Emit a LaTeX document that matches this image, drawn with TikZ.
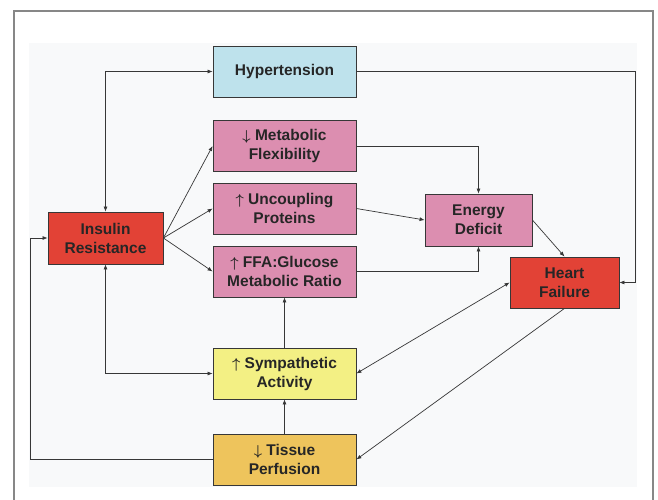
\documentclass[tikz,border=0pt]{standalone}
\usepackage{amsmath}
\usepackage{fontspec}
\setmainfont{Liberation Sans}
\usetikzlibrary{positioning, arrows.meta, calc}
\definecolor{framegray}{RGB}{135, 135, 135}
\definecolor{panelbg}{RGB}{248, 249, 250}
\definecolor{linkgray}{RGB}{55, 55, 55}
\definecolor{hypblue}{RGB}{190, 226, 236}
\definecolor{metapink}{RGB}{220, 142, 176}
\definecolor{keyred}{RGB}{226, 66, 54}
\definecolor{symyellow}{RGB}{243, 240, 132}
\definecolor{perforange}{RGB}{238, 196, 92}
\definecolor{boxtext}{RGB}{38, 38, 38}
\newcommand{\up}{$\boldsymbol{\uparrow}$}
\newcommand{\down}{$\boldsymbol{\downarrow}$}

\begin{document}
\begin{tikzpicture}[
                x=1pt, y=-1pt,
                box/.style={draw=linkgray, line width=0.8pt, align=center, inner sep=0pt,
                    minimum width=143pt, minimum height=51pt, text=boxtext,
                    font=\fontsize{15.5}{19}\selectfont\bfseries},
                keybox/.style={box, fill=keyred, minimum width=115pt, minimum height=52pt},
                link/.style={draw=linkgray, line width=0.7pt, arrows={-Latex[length=5pt, width=4pt]}},
                twoway/.style={link, arrows={Latex[length=5pt, width=4pt]-Latex[length=5pt, width=4pt]}}
            ]
                \useasboundingbox (0,0) rectangle (658,500);
                \fill[white] (0,0) rectangle (658,500);
                \draw[framegray, line width=1.2pt] (14,500) -- (14,11) -- (653,11) -- (653,500);
                \fill[panelbg] (29,43) rectangle (637,487);

                % middle column
                \node[box, fill=hypblue] (hyp) at (284.5, 71.5) {Hypertension};
                \node[box, fill=metapink] (metab) at (284.5, 146) {\down\ Metabolic\\Flexibility};
                \node[box, fill=metapink] (uncoup) at (284.5, 208.5) {\up\ Uncoupling\\Proteins};
                \node[box, fill=metapink] (ffa) at (284.5, 271.5) {\up\ FFA:Glucose\\Metabolic Ratio};
                \node[box, fill=symyellow] (symp) at (284.5, 373.5) {\up\ Sympathetic\\Activity};
                \node[box, fill=perforange] (tissue) at (284.5, 459.5) {\down\ Tissue\\Perfusion};

                % left and right
                \node[keybox] (insulin) at (105.5, 238) {Insulin\\Resistance};
                \node[box, fill=metapink, minimum width=107pt, minimum height=52pt] (energy) at (478.5, 220) {Energy\\Deficit};
                \node[keybox, minimum width=109pt, minimum height=51pt] (heart) at (564.5, 282.5) {Heart\\Failure};

                % insulin resistance links
                \draw[twoway] (insulin.north) |- (hyp.west);
                \draw[link] (insulin.east) -- (metab.west);
                \draw[link] (insulin.east) -- (uncoup.west);
                \draw[link] (insulin.east) -- (ffa.west);
                \draw[twoway] (insulin.south) |- (symp.west);

                % into energy deficit
                \draw[link] (metab.east) -| (energy.north);
                \draw[link] (uncoup.east) -- (energy.west);
                \draw[link] (ffa.east) -| (energy.south);

                % heart failure
                \draw[link] (hyp.east) -| ([xshift=16pt]heart.east) -- (heart.east);
                \draw[link] (energy.east) -- (heart.north);
                \draw[twoway] (heart.west) -- (symp.east);
                \draw[link] (heart.south) -- (tissue.east);

                % lower column
                \draw[link] (symp.north) -- (ffa.south);
                \draw[link] (tissue.north) -- (symp.south);
                \draw[link] (tissue.west) -| ([xshift=-17pt]insulin.west) -- (insulin.west);
            \end{tikzpicture}
\end{document}
